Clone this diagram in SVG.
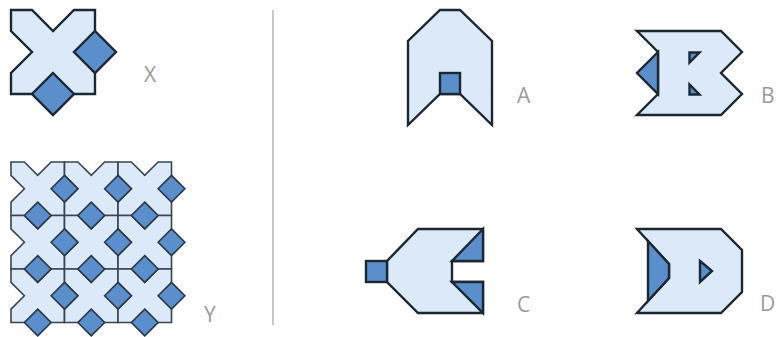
<svg xmlns="http://www.w3.org/2000/svg" xmlns:xlink="http://www.w3.org/1999/xlink" width="778" height="337" viewBox="0 0 778 337">
<style>
.lt{fill:#dbe9f9;stroke:#1b2733;stroke-width:2.4;stroke-linejoin:miter}
.dk{fill:#5b8fcc;stroke:#1b2733;stroke-width:2.4;stroke-linejoin:miter}
.ylt{fill:#dbe9f9;stroke:#3a444e;stroke-width:1.6}
.ydk{fill:#5b8fcc;stroke:#2a3744;stroke-width:1.6}
.lbl{font-family:"Open Sans","Liberation Sans",sans-serif;font-size:21px;fill:#9a9a9a}
</style>
<defs>
<polygon id="ytile" class="ylt" points="0,0 13.375,0 26.75,13.375 40.125,0 53.5,0 53.5,53.5 0,53.5 0,40.125 13.375,26.75 0,13.375"/>
<g id="ydia">
<polygon class="ydk" points="53.5,13.375 66.875,26.75 53.5,40.125 40.125,26.75"/>
<polygon class="ydk" points="26.75,40.125 40.125,53.5 26.75,66.875 13.375,53.5"/>
</g>
</defs>
<rect width="778" height="337" fill="#ffffff"/>
<g id="nodeX">
<polygon class="lt" points="11,10 32,10 53,31 74,10 95,10 95,94 11,94 11,73 32,52 11,31"/>
<polygon class="dk" points="95,31 116,52 95,73 74,52"/>
<polygon class="dk" points="53,73 74,94 53,115 32,94"/>
<text class="lbl" x="144" y="82">X</text>
</g>
<g id="nodeY">
<use xlink:href="#ytile" x="11" y="162"/>
<use xlink:href="#ytile" x="64.5" y="162"/>
<use xlink:href="#ytile" x="118" y="162"/>
<use xlink:href="#ytile" x="11" y="215.5"/>
<use xlink:href="#ytile" x="64.5" y="215.5"/>
<use xlink:href="#ytile" x="118" y="215.5"/>
<use xlink:href="#ytile" x="11" y="269"/>
<use xlink:href="#ytile" x="64.5" y="269"/>
<use xlink:href="#ytile" x="118" y="269"/>
<use xlink:href="#ydia" x="11" y="162"/>
<use xlink:href="#ydia" x="64.5" y="162"/>
<use xlink:href="#ydia" x="118" y="162"/>
<use xlink:href="#ydia" x="11" y="215.5"/>
<use xlink:href="#ydia" x="64.5" y="215.5"/>
<use xlink:href="#ydia" x="118" y="215.5"/>
<use xlink:href="#ydia" x="11" y="269"/>
<use xlink:href="#ydia" x="64.5" y="269"/>
<use xlink:href="#ydia" x="118" y="269"/>
<text class="lbl" x="204" y="322">Y</text>
</g>
<g id="divider">
<line x1="273" y1="10" x2="273" y2="325" stroke="#c8c8c8" stroke-width="2"/>
</g>
<g id="nodeA">
<polygon class="lt" points="440,10 460,10 492,41 492,125 460,94 440,94 408,125 408,41"/>
<rect class="dk" x="440" y="73" width="20" height="21"/>
<text class="lbl" x="517" y="103">A</text>
</g>
<g id="nodeB">
<polygon class="lt" points="637,31 721,31 742,52 721,73 742,94 721,115 637,115 658,94 658,52"/>
<polygon class="dk" points="658,52 637,73 658,94"/>
<polygon class="dk" points="689.5,52.5 699.5,52.5 689.5,62.5"/>
<polygon class="dk" points="689.5,84.5 689.5,94.5 699.5,94.5"/>
<text class="lbl" x="761" y="103">B</text>
</g>
<g id="nodeC">
<polygon class="lt" points="418,229 483,229 483,261 452,261 452,282 483,282 483,313 418,313 387,282 387,261"/>
<polygon class="dk" points="483,229 452,261 483,261"/>
<polygon class="dk" points="452,282 483,282 483,313"/>
<rect class="dk" x="366" y="261" width="21" height="21"/>
<text class="lbl" x="517" y="312">C</text>
</g>
<g id="nodeD">
<polygon class="lt" points="637,229 721,229 742,250 742,292 721,313 637,313 669,278 669,264"/>
<polygon class="dk" points="648,241 669,264 669,278 648,301"/>
<polygon class="dk" points="700,261 712,271 700,282"/>
<text class="lbl" x="760" y="311">D</text>
</g>
</svg>
